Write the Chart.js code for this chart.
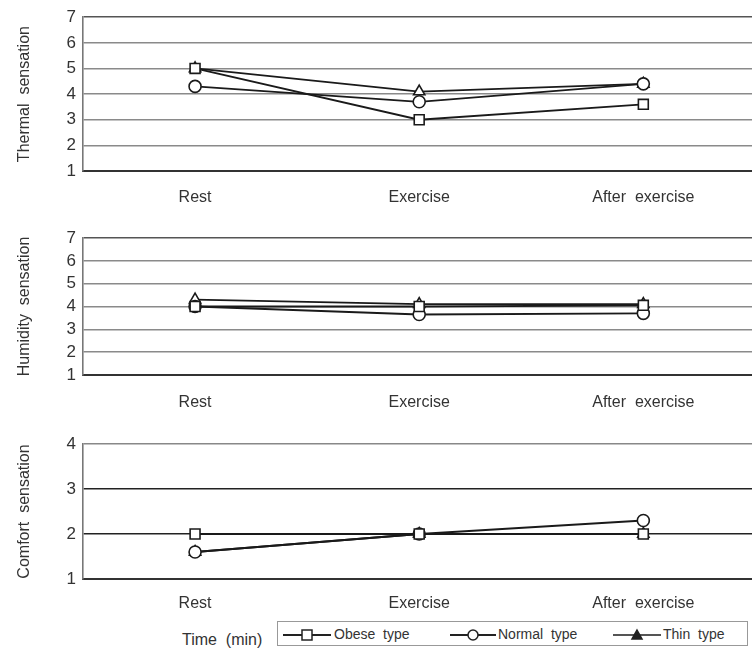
<!DOCTYPE html>
<html>
<head>
<meta charset="utf-8">
<script src="https://cdn.jsdelivr.net/npm/chart.js@4"></script>
<style>
  html, body { margin: 0; padding: 0; background: #fff; overflow: hidden; }
  body { width: 752px; height: 650px; position: relative; font-family: "Liberation Sans", Arial, sans-serif; color: #333; }
  canvas { position: absolute; left: 0; }
  #timeLabel { position: absolute; left: 182px; top: 631px; font-size: 16px; }
  #legend { position: absolute; left: 277px; top: 621px; width: 469px; height: 23px; border: 1.5px solid #999; }
  .item { position: absolute; top: 3px; font-size: 14px; line-height: 18px; white-space: nowrap; }
  .item svg { vertical-align: middle; margin-right: 2px; }
</style>
</head>
<body>
<canvas id="thermalChart" width="764" height="210" style="top:0"></canvas>
<canvas id="humidityChart" width="764" height="190" style="top:220px"></canvas>
<canvas id="comfortChart" width="764" height="195" style="top:420px"></canvas>

<div id="timeLabel">Time&nbsp; (min)</div>
<div id="legend">
  <div class="item" style="left:4px">
    <svg width="50" height="14"><line x1="1" y1="7" x2="49" y2="7" stroke="#222" stroke-width="2"/><rect x="20" y="2" width="10" height="10" fill="#fff" stroke="#222" stroke-width="1.5"/></svg>Obese&nbsp; type
  </div>
  <div class="item" style="left:172px">
    <svg width="46" height="14"><line x1="0" y1="7" x2="46" y2="7" stroke="#222" stroke-width="2"/><circle cx="23" cy="7" r="5" fill="#fff" stroke="#222" stroke-width="1.5"/></svg>Normal&nbsp; type
  </div>
  <div class="item" style="left:335px">
    <svg width="48" height="14"><line x1="0" y1="7" x2="48" y2="7" stroke="#555" stroke-width="2"/><polygon points="24,2 29,11 19,11" fill="#222" stroke="#222" stroke-width="1.5"/></svg>Thin&nbsp; type
  </div>
</div>

<script>
var categories = ["Rest", "Exercise", "After  exercise"];

var thermalObese = [5.0, 3.0, 3.6];
var thermalNormal = [4.3, 3.7, 4.4];
var thermalThin = [5.0, 4.1, 4.4];

var humidityObese = [4.0, 4.0, 4.05];
var humidityNormal = [4.0, 3.65, 3.7];
var humidityThin = [4.3, 4.1, 4.1];

var comfortObese = [2.0, 2.0, 2.0];
var comfortNormal = [1.6, 2.0, 2.3];
var comfortThin = [1.6, 2.0, 2.0];

var fontFamily = '"Liberation Sans", Arial, sans-serif';

function makeSeries(obese, normal, thin) {
    return [
        {
            label: "Obese type",
            data: obese,
            borderColor: '#1a1a1a',
            borderWidth: 1.8,
            pointStyle: 'rect',
            pointRadius: 7,
            pointBackgroundColor: '#fff',
            pointBorderColor: '#1a1a1a',
            pointBorderWidth: 1.6,
            tension: 0
        },
        {
            label: "Normal type",
            data: normal,
            borderColor: '#1a1a1a',
            borderWidth: 1.8,
            pointStyle: 'circle',
            pointRadius: 6,
            pointBackgroundColor: '#fff',
            pointBorderColor: '#1a1a1a',
            pointBorderWidth: 1.6,
            tension: 0
        },
        {
            label: "Thin type",
            data: thin,
            borderColor: '#1a1a1a',
            borderWidth: 1.8,
            pointStyle: 'triangle',
            pointRadius: 6.5,
            pointBackgroundColor: '#fff',
            pointBorderColor: '#1a1a1a',
            pointBorderWidth: 1.6,
            tension: 0
        }
    ];
}

function makeChart(id, title, series, yMax, padTop, xHeight, xPad, gridColor) {
    return new Chart(document.getElementById(id), {
        type: "line",
        data: {
            labels: categories,
            datasets: series
        },
        options: {
            responsive: false,
            animation: false,
            layout: { padding: { top: padTop, right: 1, left: 0, bottom: 0 } },
            plugins: {
                legend: { display: false },
                tooltip: { enabled: false }
            },
            scales: {
                x: {
                    offset: true,
                    grid: { display: false, drawTicks: false },
                    border: { display: true, color: '#333', width: 2 },
                    ticks: {
                        color: '#333',
                        padding: xPad,
                        maxRotation: 0,
                        font: { family: fontFamily, size: 16 }
                    },
                    afterFit: function(scale) { scale.height = xHeight; }
                },
                y: {
                    min: 1,
                    max: yMax,
                    ticks: {
                        stepSize: 1,
                        autoSkip: false,
                        color: '#333',
                        padding: 7,
                        font: { family: fontFamily, size: 17 }
                    },
                    grid: {
                        drawTicks: false,
                        lineWidth: 1.6,
                        color: gridColor
                    },
                    border: { display: true, color: '#777', width: 1.6 },
                    title: {
                        display: true,
                        text: title,
                        color: '#333',
                        padding: { top: 15, bottom: 0 },
                        font: { family: fontFamily, size: 16 }
                    },
                    afterFit: function(scale) { scale.width = 83; }
                }
            }
        }
    });
}

var chart1 = makeChart("thermalChart", "Thermal  sensation",
    makeSeries(thermalObese, thermalNormal, thermalThin), 7, 13, 39, 17,
    function(ctx) { return ctx.tick && ctx.tick.value === 7 ? '#555' : '#8a8a8a'; });

var chart2 = makeChart("humidityChart", "Humidity  sensation",
    makeSeries(humidityObese, humidityNormal, humidityThin), 7, 18, 35, 18,
    function(ctx) { return ctx.tick && ctx.tick.value === 7 ? '#555' : '#8a8a8a'; });

var chart3 = makeChart("comfortChart", "Comfort  sensation",
    makeSeries(comfortObese, comfortNormal, comfortThin), 4, 24, 36, 15,
    function(ctx) { return ctx.tick && ctx.tick.value === 4 ? '#888' : '#222'; });
</script>
</body>
</html>
